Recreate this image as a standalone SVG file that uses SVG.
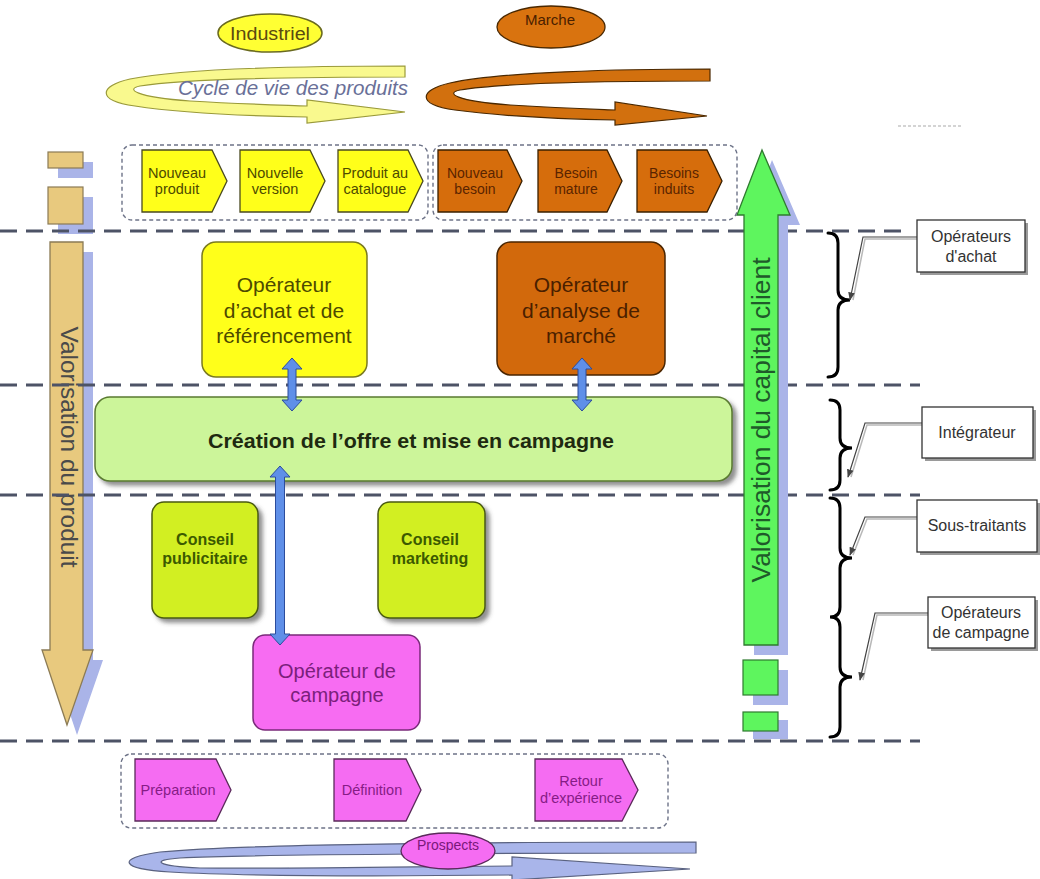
<svg xmlns="http://www.w3.org/2000/svg" width="1040" height="879" viewBox="0 0 1040 879">
  <defs>
    <style>
      .t { font-family: "Liberation Sans", Arial, sans-serif; }
      .dash { stroke: #4d5366; stroke-width: 3; stroke-dasharray: 17 9; fill: none; }
      .grp { fill: none; stroke: #6d7388; stroke-width: 1.4; stroke-dasharray: 4 3; }
      .chevY { fill: #ffff1a; stroke: #4a4a20; stroke-width: 1.3; }
      .chevO { fill: #d66d0c; stroke: #3a2000; stroke-width: 1.3; }
      .chevP { fill: #f56cf2; stroke: #5a2a5a; stroke-width: 1.3; }
      .txY { fill: #4d4a00; font-size: 14.5px; text-anchor: middle; }
      .txO { fill: #5a2400; font-size: 14px; text-anchor: middle; }
      .txP { fill: #861c86; font-size: 14.5px; text-anchor: middle; }
      .lav { fill: #aab4e8; }
      .blue { fill: #5f8fe8; stroke: #2c4c9c; stroke-width: 1; }
      .brace { fill: none; stroke: #000; stroke-width: 3; stroke-linecap: round; }
      .lead { fill: none; stroke: #444; stroke-width: 1.2; }
      .leadS { fill: none; stroke: #b8b8b8; stroke-width: 1.5; }
      .call { fill: #fff; stroke: #333; stroke-width: 1.3; }
      .callS { fill: #9a9a9a; }
      .txC { fill: #333; font-size: 16px; text-anchor: middle; }
    </style>
    <filter id="sh" x="-10%" y="-10%" width="130%" height="130%">
      <feDropShadow dx="4" dy="4" stdDeviation="2" flood-color="#444" flood-opacity="0.6"/>
    </filter>
    <marker id="ah" viewBox="0 0 10 10" refX="9" refY="5" markerWidth="7" markerHeight="7" orient="auto">
      <path d="M0,1 L10,5 L0,9 Z" fill="#444"/>
    </marker>
  </defs>

  <rect width="1040" height="879" fill="#fff"/>

  <!-- product life cycle (top left) -->
  <g id="cycle-industriel">
    <path d="M405 66 L405 77 C300 77 180 79 140 86 C125 89 135 97 190 101 C240 104 280 105 307 106 L307 100 L405 112 L307 123 L307 117 C250 116 180 113 135 106 C95 100 100 86 130 79 C180 69 300 66 405 66 Z" fill="#f9f98e" stroke="#9a9a3a" stroke-width="1.2"/>
    <ellipse cx="270" cy="33" rx="52" ry="19" fill="#ffff33" stroke="#6a6a20" stroke-width="1.5"/>
    <text class="t" x="270" y="40" font-size="18" fill="#5a4a10" text-anchor="middle" textLength="80" lengthAdjust="spacingAndGlyphs">Industriel</text>
    <text class="t" x="293" y="95" font-size="20" font-style="italic" fill="#6a7098" text-anchor="middle" textLength="230" lengthAdjust="spacingAndGlyphs">Cycle de vie des produits</text>
  </g>

  <!-- market cycle (top right) -->
  <g id="cycle-marche">
    <path d="M710 69 L710 81 C620 81 500 83 460 90 C445 93 455 101 510 105 C560 108 590 109 615 110 L615 102 L707 116 L615 125 L615 120 C560 119 500 116 455 110 C415 104 420 90 450 83 C500 72 620 69 710 69 Z" fill="#d2700e" stroke="#4a2800" stroke-width="1.2"/>
    <ellipse cx="551" cy="27" rx="54" ry="21" fill="#d9730f" stroke="#4a2800" stroke-width="1.3"/>
    <text class="t" x="550" y="25" font-size="15" fill="#4a2000" text-anchor="middle">Marche</text>
  </g>

  <!-- faint mark top right -->
  <line x1="898" y1="126" x2="962" y2="126" stroke="#aaa" stroke-width="1.2" stroke-dasharray="3 2"/>

  <!-- product value arrow (left) -->
  <g id="arrow-produit">
    <rect class="lav" x="58" y="162" width="35" height="16"/>
    <rect x="48" y="152" width="35" height="16" fill="#e8c97e" stroke="#8b7b55" stroke-width="1.2"/>
    <rect class="lav" x="58" y="197" width="35" height="37"/>
    <rect x="48" y="187" width="35" height="37" fill="#e8c97e" stroke="#8b7b55" stroke-width="1.2"/>
    <polygon class="lav" points="60,252 93,252 93,660 103,660 77,735 52,660 60,660"/>
    <polygon points="50,242 83,242 83,650 93,650 67,725 42,650 50,650" fill="#e8c97e" stroke="#8b7b55" stroke-width="1.3"/>
    <text class="t" transform="translate(61 447) rotate(90)" font-size="24" fill="#4a4a4a" text-anchor="middle" textLength="241" lengthAdjust="spacingAndGlyphs">Valorisation du produit</text>
  </g>

  <!-- band separators -->
  <g id="separators">
    <line class="dash" x1="0" y1="231" x2="910" y2="231"/>
    <line class="dash" x1="0" y1="385" x2="920" y2="385"/>
    <line class="dash" x1="0" y1="495" x2="920" y2="495"/>
    <line class="dash" x1="0" y1="741" x2="920" y2="741"/>
  </g>

  <!-- customer value arrow (right) -->
  <g id="arrow-client">
    <polygon class="lav" points="772,160 800,225 788,225 788,655 754,655 754,225 747,225"/>
    <polygon points="762,150 790,215 778,215 778,645 744,645 744,215 737,215" fill="#5ef55e" stroke="#2f7a2f" stroke-width="1.3"/>
    <rect class="lav" x="753" y="670" width="35" height="35"/>
    <rect x="743" y="660" width="35" height="35" fill="#5ef55e" stroke="#2f7a2f" stroke-width="1.2"/>
    <rect class="lav" x="753" y="720" width="35" height="19"/>
    <rect x="743" y="712" width="35" height="19" fill="#5ef55e" stroke="#2f7a2f" stroke-width="1.2"/>
    <text class="t" transform="translate(770 420) rotate(-90)" font-size="25" fill="#1f5a2a" text-anchor="middle" textLength="325" lengthAdjust="spacingAndGlyphs">Valorisation du capital client</text>
  </g>

  <!-- product stages -->
  <g id="stages-produit">
    <rect class="grp" x="122" y="145" width="306" height="75" rx="10"/>
    <polygon class="chevY" points="142,150 212,150 227,181 212,212 142,212"/>
    <text class="t txY" x="177" y="178">Nouveau</text>
    <text class="t txY" x="177" y="194">produit</text>
    <polygon class="chevY" points="240,150 310,150 325,181 310,212 240,212"/>
    <text class="t txY" x="275" y="178">Nouvelle</text>
    <text class="t txY" x="275" y="194">version</text>
    <polygon class="chevY" points="338,150 408,150 423,181 408,212 338,212"/>
    <text class="t txY" x="375" y="178">Produit au</text>
    <text class="t txY" x="375" y="194">catalogue</text>
  </g>

  <!-- market stages -->
  <g id="stages-marche">
    <rect class="grp" x="433" y="145" width="304" height="75" rx="10"/>
    <polygon class="chevO" points="438,150 507,150 522,181 507,212 438,212"/>
    <text class="t txO" x="475" y="178">Nouveau</text>
    <text class="t txO" x="475" y="194">besoin</text>
    <polygon class="chevO" points="538,150 607,150 622,181 607,212 538,212"/>
    <text class="t txO" x="576" y="178">Besoin</text>
    <text class="t txO" x="576" y="194">mature</text>
    <polygon class="chevO" points="637,150 707,150 722,181 707,212 637,212"/>
    <text class="t txO" x="674" y="178">Besoins</text>
    <text class="t txO" x="674" y="194">induits</text>
  </g>

  <!-- operators -->
  <g id="op-achat">
    <rect x="202" y="242" width="165" height="135" rx="14" fill="#ffff1a" stroke="#7a7a20" stroke-width="1.5"/>
    <text class="t" x="284" y="292" font-size="21" fill="#4d4a00" text-anchor="middle">Opérateur</text>
    <text class="t" x="284" y="318" font-size="21" fill="#4d4a00" text-anchor="middle">d’achat et de</text>
    <text class="t" x="284" y="343" font-size="21" fill="#4d4a00" text-anchor="middle">référencement</text>
  </g>

  <g id="op-analyse">
    <rect x="497" y="242" width="168" height="133" rx="14" fill="#d2690c" stroke="#4a2500" stroke-width="1.5"/>
    <text class="t" x="581" y="292" font-size="21" fill="#4a1f00" text-anchor="middle">Opérateur</text>
    <text class="t" x="581" y="318" font-size="21" fill="#4a1f00" text-anchor="middle">d’analyse de</text>
    <text class="t" x="581" y="343" font-size="21" fill="#4a1f00" text-anchor="middle">marché</text>
  </g>

  <g id="creation-offre">
    <rect x="95" y="397" width="637" height="84" rx="15" fill="#ccf59a" stroke="#5a7a30" stroke-width="1.5" filter="url(#sh)"/>
    <text class="t" x="411" y="448" font-size="21" font-weight="bold" fill="#1e2a10" text-anchor="middle" textLength="406" lengthAdjust="spacingAndGlyphs">Création de l’offre et mise en campagne</text>
  </g>

  <g id="conseil-pub">
    <rect x="152" y="502" width="106" height="116" rx="12" fill="#d2ef22" stroke="#4a5a10" stroke-width="1.5" filter="url(#sh)"/>
    <text class="t" x="205" y="545" font-size="16" font-weight="bold" fill="#3c5a00" text-anchor="middle">Conseil</text>
    <text class="t" x="205" y="564" font-size="16" font-weight="bold" fill="#3c5a00" text-anchor="middle">publicitaire</text>
  </g>

  <g id="conseil-marketing">
    <rect x="378" y="502" width="107" height="116" rx="12" fill="#d2ef22" stroke="#4a5a10" stroke-width="1.5" filter="url(#sh)"/>
    <text class="t" x="430" y="545" font-size="16" font-weight="bold" fill="#3c5a00" text-anchor="middle">Conseil</text>
    <text class="t" x="430" y="564" font-size="16" font-weight="bold" fill="#3c5a00" text-anchor="middle">marketing</text>
  </g>

  <g id="op-campagne">
    <rect x="253" y="635" width="167" height="95" rx="12" fill="#f76cf2" stroke="#7a2a7a" stroke-width="1.5"/>
    <text class="t" x="337" y="678" font-size="20" fill="#7b1f7b" text-anchor="middle">Opérateur de</text>
    <text class="t" x="337" y="702" font-size="20" fill="#7b1f7b" text-anchor="middle">campagne</text>
  </g>

  <!-- campaign stages -->
  <g id="stages-campagne">
    <rect class="grp" x="121" y="754" width="547" height="74" rx="10"/>
    <polygon class="chevP" points="135,759 216,759 231,790 216,821 135,821"/>
    <text class="t txP" x="178" y="795">Préparation</text>
    <polygon class="chevP" points="334,759 406,759 421,790 406,821 334,821"/>
    <text class="t txP" x="372" y="795">Définition</text>
    <polygon class="chevP" points="535,759 622,759 638,790 622,821 535,821"/>
    <text class="t txP" x="581" y="786">Retour</text>
    <text class="t txP" x="581" y="803">d’expérience</text>
  </g>

  <!-- prospects cycle (bottom) -->
  <g id="cycle-prospects">
    <path d="M696 842 L696 853 C560 853 260 854 180 858 C150 860 155 866 200 868 C300 869 450 866 512 866 L512 857 L690 869 L512 880 L512 875 C420 876 260 877 170 872 C120 869 115 858 160 852 C260 843 500 842 696 842 Z" fill="#a9b5ea" stroke="#5a6280" stroke-width="1.2"/>
    <ellipse cx="448" cy="851" rx="47" ry="18" fill="#f56cf2" stroke="#5a2a5a" stroke-width="1.3"/>
    <text class="t" x="448" y="850" font-size="14" fill="#7a187a" text-anchor="middle">Prospects</text>
  </g>

  <!-- links and callouts -->
  <g id="connectors">
    <polygon class="blue" points="292,358 302,369 296,369 296,400 302,400 292,411 282,400 288,400 288,369 282,369"/>
    <polygon class="blue" points="582,358 592,369 586,369 586,400 592,400 582,411 572,400 578,400 578,369 572,369"/>
    <polygon class="blue" points="280,466 290,477 284.5,477 284.5,634 290,634 280,645 270,634 275.5,634 275.5,477 270,477"/>

    <path class="brace" d="M828 233 Q838 233 838 243 L838 290 Q838 300 850 300 Q838 300 838 310 L838 367 Q838 377 828 377"/>
    <path class="brace" d="M830 400 Q840 400 840 410 L840 438 Q840 448 852 448 Q840 448 840 458 L840 480 Q840 490 830 490"/>
    <path class="brace" d="M830 498 Q840 498 840 508 L840 548 Q840 558 852 558 Q840 558 840 568 L840 607 Q840 617 830 617 Q840 617 840 627 L840 667 Q840 677 852 677 Q840 677 840 687 L840 727 Q840 737 830 737"/>

    <polyline class="leadS" points="917,239 865,239 853,300"/>
    <polyline class="lead" points="917,237 863,237 850,300" marker-end="url(#ah)"/>
    <polyline class="leadS" points="922,425 867,425 851,477"/>
    <polyline class="lead" points="922,423 865,423 848,477" marker-end="url(#ah)"/>
    <polyline class="leadS" points="917,519 867,519 853,555"/>
    <polyline class="lead" points="917,517 865,517 850,555" marker-end="url(#ah)"/>
    <polyline class="leadS" points="928,615 877,615 863,680"/>
    <polyline class="lead" points="928,613 875,613 860,680" marker-end="url(#ah)"/>
  </g>

  <g id="role-achat">
    <rect class="callS" x="920" y="223" width="108" height="52"/>
    <rect class="call" x="917" y="220" width="108" height="52"/>
    <text class="t txC" x="971" y="242">Opérateurs</text>
    <text class="t txC" x="971" y="262">d'achat</text>
  </g>
  <g id="role-integrateur">
    <rect class="callS" x="925" y="410" width="111" height="51"/>
    <rect class="call" x="922" y="407" width="111" height="51"/>
    <text class="t txC" x="977" y="438">Intégrateur</text>
  </g>
  <g id="role-sous-traitants">
    <rect class="callS" x="920" y="503" width="120" height="52"/>
    <rect class="call" x="917" y="500" width="120" height="52"/>
    <text class="t txC" x="977" y="531">Sous-traitants</text>
  </g>
  <g id="role-campagne">
    <rect class="callS" x="931" y="600" width="107" height="51"/>
    <rect class="call" x="928" y="597" width="107" height="51"/>
    <text class="t txC" x="981" y="618">Opérateurs</text>
    <text class="t txC" x="981" y="638">de campagne</text>
  </g>
</svg>
